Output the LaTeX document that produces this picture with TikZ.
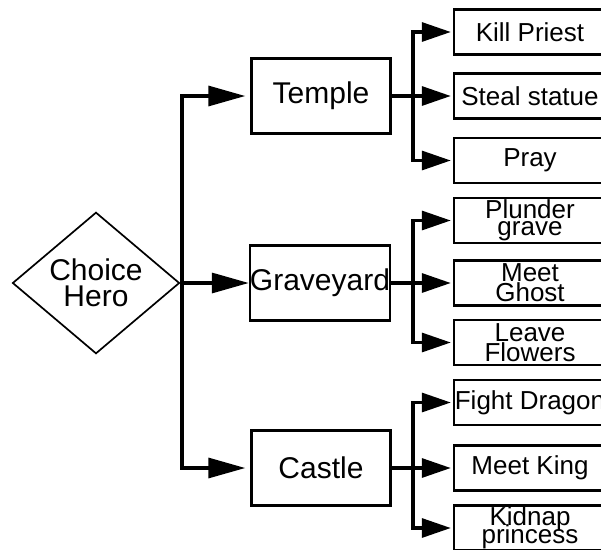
\documentclass[tikz,border=0pt]{standalone}
\usepackage{fontspec}
\setmainfont{Liberation Sans}
\usetikzlibrary{shapes.geometric,arrows.meta}

\tikzset{
  decision/.style={draw, shape=diamond, line width=1.7pt, minimum width=167pt,
    minimum height=120pt, inner sep=0pt, align=center,
    font=\fontsize{30}{26}\selectfont},
  place/.style={draw, line width=2.4pt, minimum width=139pt, minimum height=75pt,
    inner sep=0pt, font=\fontsize{30}{30}\selectfont},
  action/.style={draw, line width=2.4pt, minimum width=152pt, minimum height=45pt,
    inner sep=0pt, align=center, font=\fontsize{26}{17}\selectfont},
  wide/.style={font=\fontsize{26}{20}\selectfont},
  conn/.style={line width=3.2pt},
  bigarrow/.style={conn, -{Triangle[length=37pt,width=20pt]}},
  smallarrow/.style={conn, -{Triangle[length=29pt,width=19pt]}, shorten >=2pt},
}

\begin{document}
\begin{tikzpicture}[x=1pt, y=-1pt]
\useasboundingbox (0,0) rectangle (601,549);
\clip (0,0) rectangle (601,549);

% root decision
\node[decision] (hero) at (96,283) {Choice\\Hero};

% locations
\node[place] (temple)    at (321,96)  {Temple};
\node[place] (graveyard) at (320,283) {Graveyard};
\node[place] (castle)    at (321,468) {Castle};

% actions
\node[action] (kill)    at (530,32)    {Kill Priest};
\node[action] (steal)   at (530,96)    {Steal statue};
\node[action] (pray)    at (530,160.5) {Pray};
\node[action] (plunder) at (530,220.5) {Plunder\\grave};
\node[action, wide] (ghost)   at (530,283)   {Meet\\Ghost};
\node[action, wide] (flowers) at (530,342.5) {Leave\\Flowers};
\node[action] (dragon)  at (530,402.5) {Fight Dragon};
\node[action] (king)    at (530,468)   {Meet King};
\node[action] (kidnap)  at (530,528)   {Kidnap\\[-7pt]princess};

% junction points
\coordinate (trunk) at (182,283);
\coordinate (tj) at (413,96);
\coordinate (gj) at (413,283);
\coordinate (cj) at (413,468);

% root to locations
\draw[bigarrow] (hero.east) -- (graveyard.west);
\draw[bigarrow, shorten >=5pt] (trunk) |- (temple.west);
\draw[bigarrow, shorten >=5pt] (trunk) |- (castle.west);

% temple branch
\draw[conn] (temple.east) -- (tj);
\draw[smallarrow] (tj) |- (kill.west);
\draw[smallarrow] (tj) -- (steal.west);
\draw[smallarrow] (tj) |- (pray.west);

% graveyard branch
\draw[conn] (graveyard.east) -- (gj);
\draw[smallarrow] (gj) |- (plunder.west);
\draw[smallarrow] (gj) -- (ghost.west);
\draw[smallarrow] (gj) |- (flowers.west);

% castle branch
\draw[conn] (castle.east) -- (cj);
\draw[smallarrow] (cj) |- (dragon.west);
\draw[smallarrow] (cj) -- (king.west);
\draw[smallarrow] (cj) |- (kidnap.west);
\end{tikzpicture}
\end{document}
